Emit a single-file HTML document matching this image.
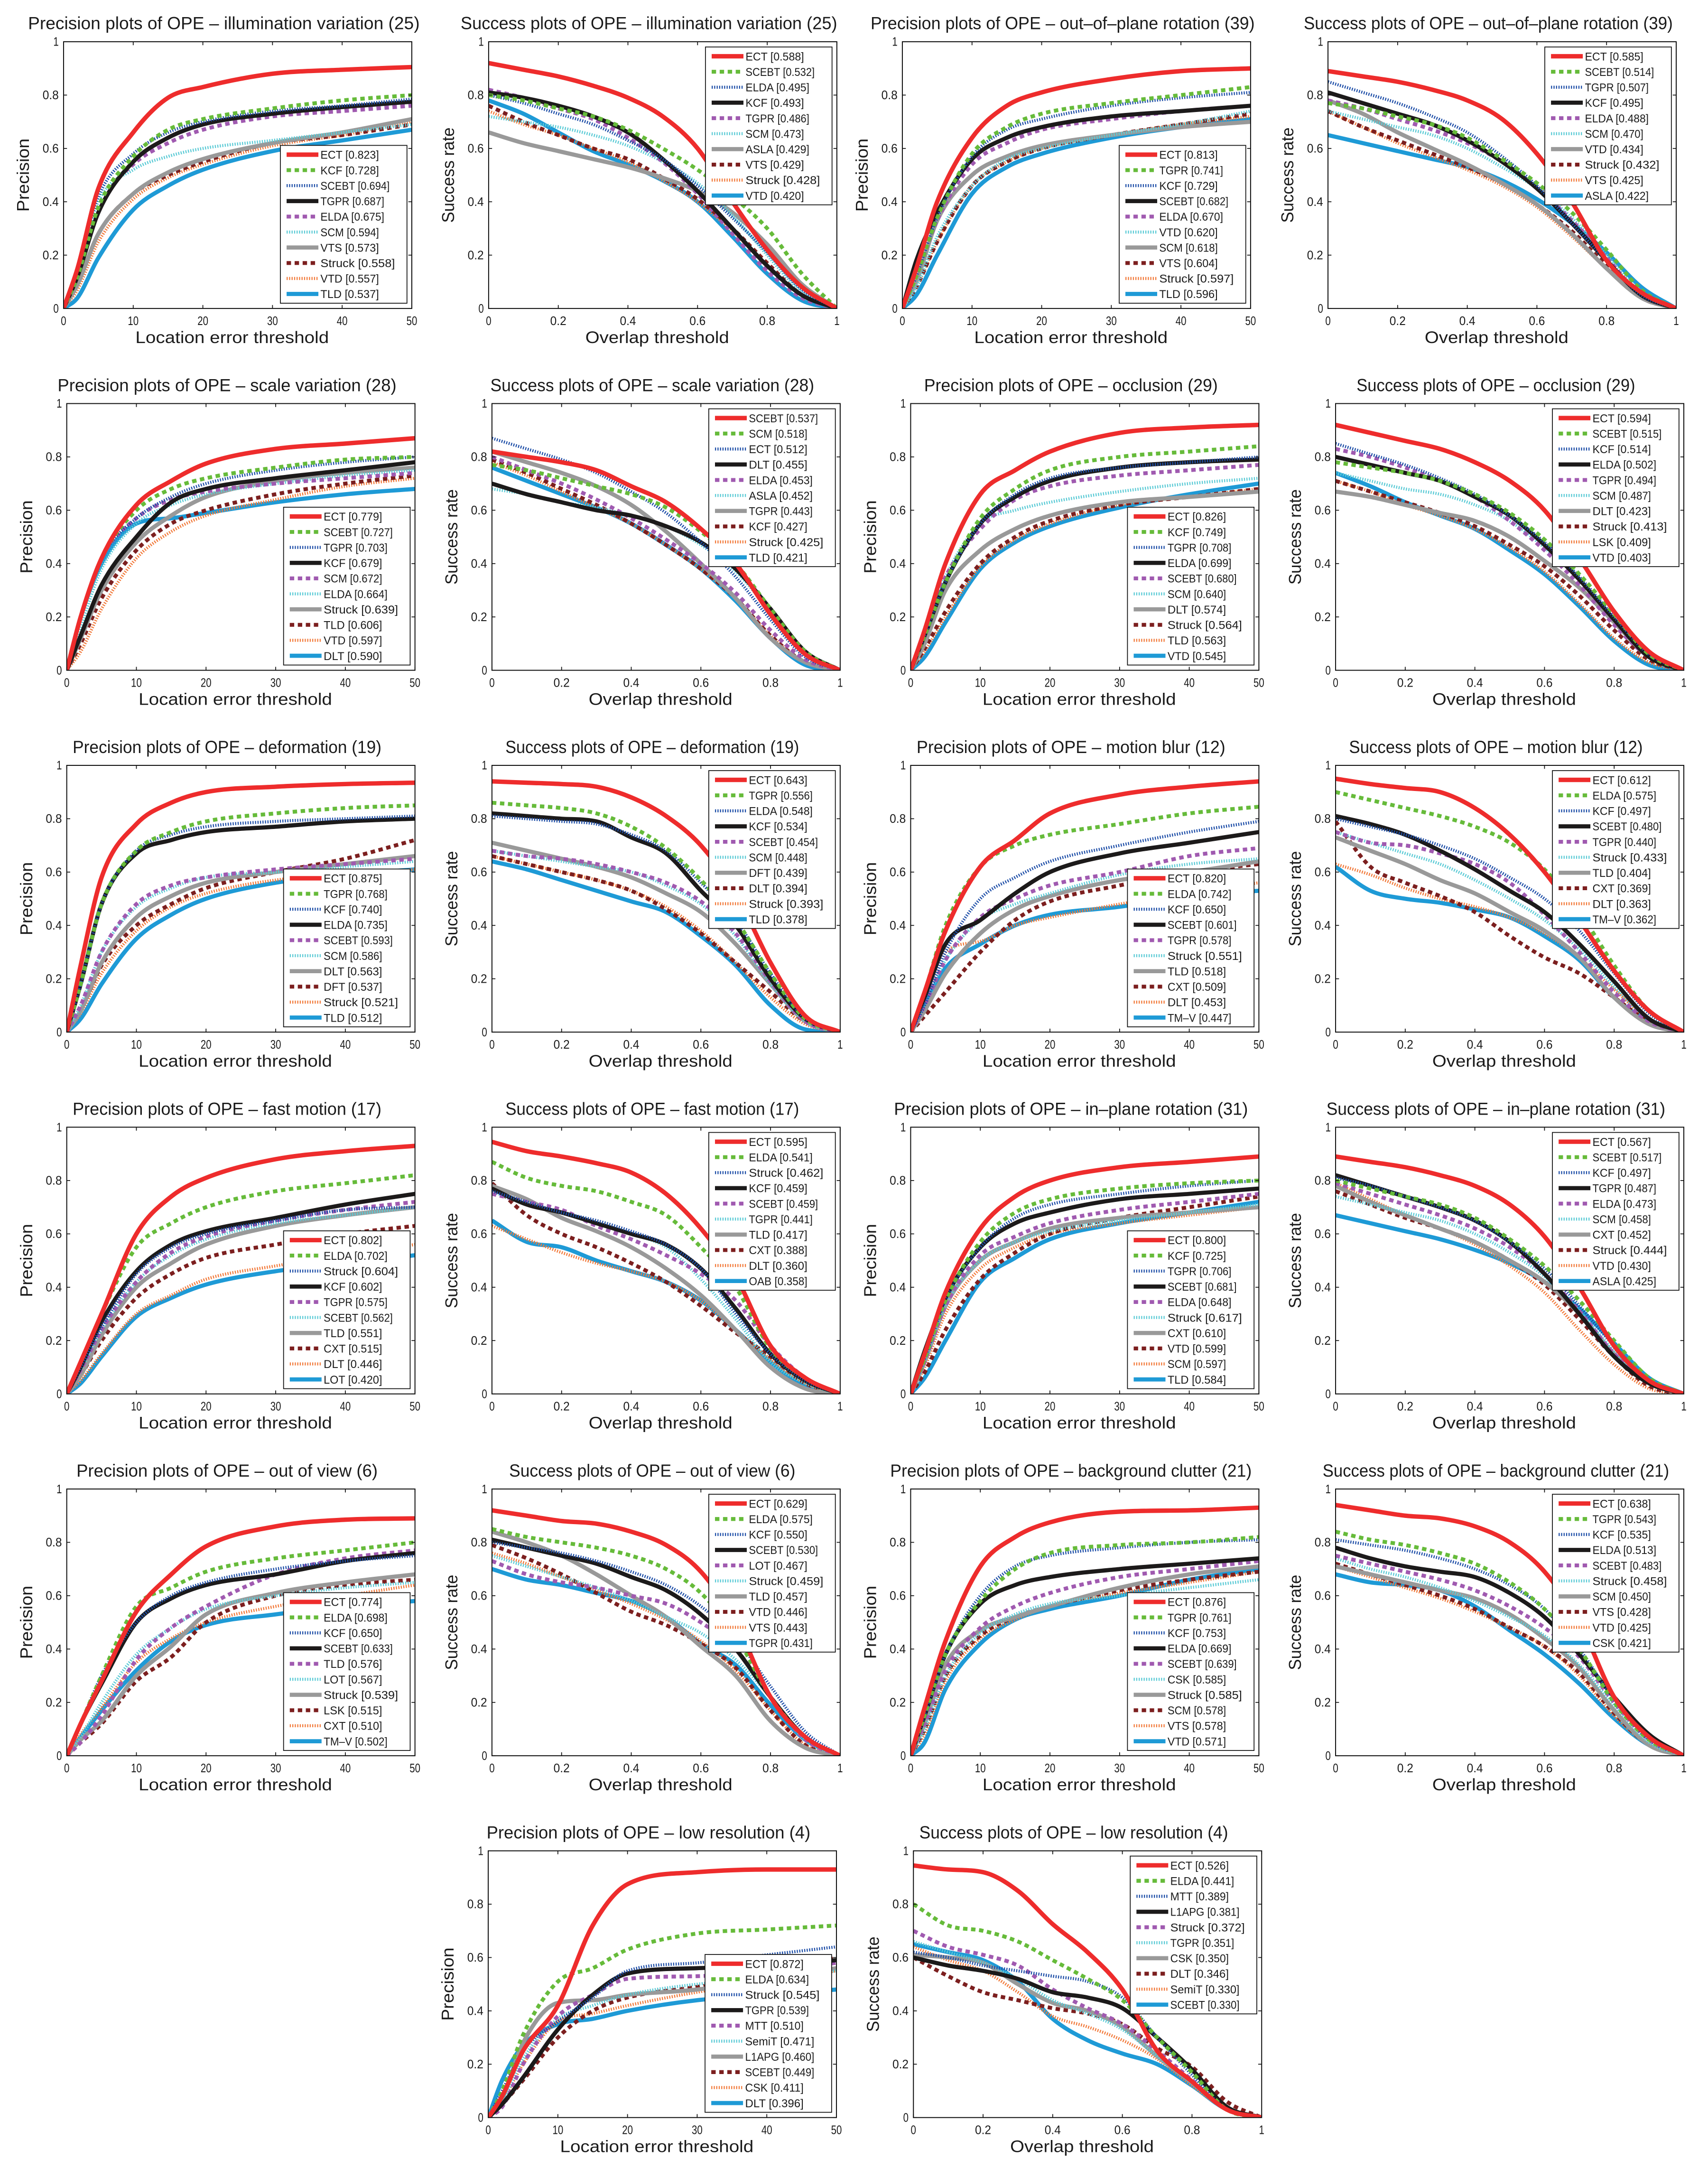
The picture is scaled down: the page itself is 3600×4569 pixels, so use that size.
<!DOCTYPE html>
<html><head><meta charset="utf-8">
<style>
html,body{margin:0;padding:0;background:#fff;}
svg{display:block;}
text{font-family:"Liberation Sans",sans-serif;fill:#1a1a1a;}
</style></head>
<body>
<svg id="fig" xmlns="http://www.w3.org/2000/svg" width="3600" height="4569" viewBox="0 0 1236 1568.7"></svg>
<script>
// ---------- data ----------
const precX = [0, 2, 5, 10, 15, 20, 30, 40, 50];
const succX = [0, 0.1, 0.2, 0.3, 0.4, 0.5, 0.6, 0.7, 0.8, 0.9, 1];
const precTicks = ["0","10","20","30","40","50"];
const succTicks = ["0","0.2","0.4","0.6","0.8","1"];
const yTicks = ["0","0.2","0.4","0.6","0.8","1"];
const kinds = ["P","S","P","S","P","S","P","S","P","S","P","S","P","S","P","S","P","S","P","S","P","S"];
const titles = [
"Precision plots of OPE – illumination variation (25)","Success plots of OPE – illumination variation (25)",
"Precision plots of OPE – out–of–plane rotation (39)","Success plots of OPE – out–of–plane rotation (39)",
"Precision plots of OPE – scale variation (28)","Success plots of OPE – scale variation (28)",
"Precision plots of OPE – occlusion (29)","Success plots of OPE – occlusion (29)",
"Precision plots of OPE – deformation (19)","Success plots of OPE – deformation (19)",
"Precision plots of OPE – motion blur (12)","Success plots of OPE – motion blur (12)",
"Precision plots of OPE – fast motion (17)","Success plots of OPE – fast motion (17)",
"Precision plots of OPE – in–plane rotation (31)","Success plots of OPE – in–plane rotation (31)",
"Precision plots of OPE – out of view (6)","Success plots of OPE – out of view (6)",
"Precision plots of OPE – background clutter (21)","Success plots of OPE – background clutter (21)",
"Precision plots of OPE – low resolution (4)","Success plots of OPE – low resolution (4)"];
const names = [
["ECT","KCF","SCEBT","TGPR","ELDA","SCM","VTS","Struck","VTD","TLD"],
["ECT","SCEBT","ELDA","KCF","TGPR","SCM","ASLA","VTS","Struck","VTD"],
["ECT","TGPR","KCF","SCEBT","ELDA","VTD","SCM","VTS","Struck","TLD"],
["ECT","SCEBT","TGPR","KCF","ELDA","SCM","VTD","Struck","VTS","ASLA"],
["ECT","SCEBT","TGPR","KCF","SCM","ELDA","Struck","TLD","VTD","DLT"],
["SCEBT","SCM","ECT","DLT","ELDA","ASLA","TGPR","KCF","Struck","TLD"],
["ECT","KCF","TGPR","ELDA","SCEBT","SCM","DLT","Struck","TLD","VTD"],
["ECT","SCEBT","KCF","ELDA","TGPR","SCM","DLT","Struck","LSK","VTD"],
["ECT","TGPR","KCF","ELDA","SCEBT","SCM","DLT","DFT","Struck","TLD"],
["ECT","TGPR","ELDA","KCF","SCEBT","SCM","DFT","DLT","Struck","TLD"],
["ECT","ELDA","KCF","SCEBT","TGPR","Struck","TLD","CXT","DLT","TM–V"],
["ECT","ELDA","KCF","SCEBT","TGPR","Struck","TLD","CXT","DLT","TM–V"],
["ECT","ELDA","Struck","KCF","TGPR","SCEBT","TLD","CXT","DLT","LOT"],
["ECT","ELDA","Struck","KCF","SCEBT","TGPR","TLD","CXT","DLT","OAB"],
["ECT","KCF","TGPR","SCEBT","ELDA","Struck","CXT","VTD","SCM","TLD"],
["ECT","SCEBT","KCF","TGPR","ELDA","SCM","CXT","Struck","VTD","ASLA"],
["ECT","ELDA","KCF","SCEBT","TLD","LOT","Struck","LSK","CXT","TM–V"],
["ECT","ELDA","KCF","SCEBT","LOT","Struck","TLD","VTD","VTS","TGPR"],
["ECT","TGPR","KCF","ELDA","SCEBT","CSK","Struck","SCM","VTS","VTD"],
["ECT","TGPR","KCF","ELDA","SCEBT","Struck","SCM","VTS","VTD","CSK"],
["ECT","ELDA","Struck","TGPR","MTT","SemiT","L1APG","SCEBT","CSK","DLT"],
["ECT","ELDA","MTT","L1APG","Struck","TGPR","CSK","DLT","SemiT","SCEBT"]];
const scores = [
["0.823","0.728","0.694","0.687","0.675","0.594","0.573","0.558","0.557","0.537"],
["0.588","0.532","0.495","0.493","0.486","0.473","0.429","0.429","0.428","0.420"],
["0.813","0.741","0.729","0.682","0.670","0.620","0.618","0.604","0.597","0.596"],
["0.585","0.514","0.507","0.495","0.488","0.470","0.434","0.432","0.425","0.422"],
["0.779","0.727","0.703","0.679","0.672","0.664","0.639","0.606","0.597","0.590"],
["0.537","0.518","0.512","0.455","0.453","0.452","0.443","0.427","0.425","0.421"],
["0.826","0.749","0.708","0.699","0.680","0.640","0.574","0.564","0.563","0.545"],
["0.594","0.515","0.514","0.502","0.494","0.487","0.423","0.413","0.409","0.403"],
["0.875","0.768","0.740","0.735","0.593","0.586","0.563","0.537","0.521","0.512"],
["0.643","0.556","0.548","0.534","0.454","0.448","0.439","0.394","0.393","0.378"],
["0.820","0.742","0.650","0.601","0.578","0.551","0.518","0.509","0.453","0.447"],
["0.612","0.575","0.497","0.480","0.440","0.433","0.404","0.369","0.363","0.362"],
["0.802","0.702","0.604","0.602","0.575","0.562","0.551","0.515","0.446","0.420"],
["0.595","0.541","0.462","0.459","0.459","0.441","0.417","0.388","0.360","0.358"],
["0.800","0.725","0.706","0.681","0.648","0.617","0.610","0.599","0.597","0.584"],
["0.567","0.517","0.497","0.487","0.473","0.458","0.452","0.444","0.430","0.425"],
["0.774","0.698","0.650","0.633","0.576","0.567","0.539","0.515","0.510","0.502"],
["0.629","0.575","0.550","0.530","0.467","0.459","0.457","0.446","0.443","0.431"],
["0.876","0.761","0.753","0.669","0.639","0.585","0.585","0.578","0.578","0.571"],
["0.638","0.543","0.535","0.513","0.483","0.458","0.450","0.428","0.425","0.421"],
["0.872","0.634","0.545","0.539","0.510","0.471","0.460","0.449","0.411","0.396"],
["0.526","0.441","0.389","0.381","0.372","0.351","0.350","0.346","0.330","0.330"]];
const curves = [
[[0,.15,.45,.66,.79,.83,.88,.895,.905],[0,.12,.38,.57,.67,.71,.75,.78,.80],[0,.15,.42,.58,.66,.70,.74,.76,.785],[0,.12,.36,.55,.64,.69,.73,.755,.775],[0,.12,.38,.54,.62,.67,.72,.74,.76],[0,.14,.40,.52,.57,.60,.63,.66,.69],[0,.09,.28,.43,.51,.56,.62,.66,.71],[0,.09,.28,.43,.50,.55,.62,.65,.69],[0,.07,.25,.41,.49,.54,.61,.65,.70],[0,.04,.19,.37,.46,.52,.59,.63,.67]],
[[.92,.895,.87,.835,.79,.72,.60,.40,.22,.08,0],[.80,.78,.75,.72,.67,.60,.52,.42,.30,.13,0],[.80,.77,.73,.69,.63,.56,.46,.34,.21,.07,0],[.81,.79,.76,.72,.66,.56,.44,.30,.16,.05,0],[.82,.79,.75,.71,.64,.55,.43,.28,.14,.04,0],[.72,.70,.68,.65,.61,.55,.47,.35,.20,.06,0],[.66,.62,.59,.56,.53,.49,.44,.36,.24,.09,0],[.76,.70,.65,.60,.56,.49,.41,.30,.17,.05,0],[.74,.69,.65,.60,.55,.48,.40,.29,.16,.05,0],[.78,.73,.66,.59,.54,.48,.40,.27,.13,.03,0]],
[[0,.15,.40,.64,.76,.81,.86,.89,.90],[0,.12,.34,.58,.68,.73,.77,.80,.83],[0,.12,.34,.57,.67,.71,.76,.79,.81],[0,.18,.36,.56,.64,.68,.72,.74,.76],[0,.12,.33,.54,.62,.67,.71,.74,.76],[0,.08,.27,.46,.56,.60,.65,.69,.74],[0,.10,.33,.50,.57,.61,.65,.68,.70],[0,.08,.25,.46,.55,.60,.65,.69,.73],[0,.08,.25,.46,.55,.60,.65,.69,.72],[0,.05,.20,.43,.53,.58,.64,.68,.71]],
[[.89,.87,.85,.82,.78,.71,.58,.40,.18,.06,0],[.77,.75,.72,.69,.64,.56,.47,.36,.22,.07,0],[.85,.81,.77,.72,.66,.57,.46,.32,.18,.05,0],[.81,.77,.73,.69,.63,.55,.45,.32,.18,.05,0],[.78,.75,.71,.67,.62,.55,.45,.33,.19,.05,0],[.74,.71,.68,.65,.60,.53,.45,.34,.20,.06,0],[.78,.73,.66,.60,.54,.47,.39,.28,.15,.04,0],[.74,.68,.63,.58,.53,.47,.39,.29,.16,.04,0],[.74,.68,.62,.57,.52,.46,.38,.27,.15,.04,0],[.65,.62,.59,.56,.53,.48,.41,.32,.21,.08,0]],
[[0,.20,.42,.62,.71,.775,.83,.85,.87],[0,.20,.42,.60,.68,.72,.76,.79,.80],[0,.20,.42,.57,.65,.70,.75,.78,.80],[0,.13,.32,.50,.63,.68,.72,.75,.78],[0,.20,.42,.57,.64,.67,.70,.72,.74],[0,.16,.38,.55,.62,.66,.70,.73,.75],[0,.12,.30,.48,.58,.65,.71,.74,.76],[0,.10,.27,.45,.55,.60,.66,.70,.73],[0,.07,.23,.42,.52,.58,.64,.69,.72],[0,.20,.40,.55,.57,.59,.63,.66,.68]],
[[.82,.80,.78,.75,.69,.63,.53,.40,.21,.06,0],[.77,.75,.72,.69,.66,.61,.52,.40,.23,.07,0],[.87,.83,.79,.74,.67,.59,.48,.35,.19,.05,0],[.70,.66,.63,.60,.58,.54,.48,.38,.23,.07,0],[.80,.75,.70,.64,.57,.49,.40,.29,.15,.04,0],[.68,.66,.63,.61,.58,.54,.47,.37,.22,.06,0],[.82,.78,.74,.69,.62,.52,.40,.27,.12,.03,0],[.79,.74,.68,.62,.55,.47,.38,.27,.13,.03,0],[.78,.73,.67,.61,.55,.47,.38,.27,.13,.03,0],[.76,.71,.66,.61,.55,.47,.38,.26,.12,.02,0]],
[[0,.15,.40,.66,.75,.82,.89,.91,.92],[0,.13,.33,.57,.68,.75,.80,.82,.84],[0,.13,.33,.55,.66,.72,.76,.78,.80],[0,.13,.33,.55,.65,.71,.76,.78,.79],[0,.15,.35,.53,.64,.69,.73,.75,.77],[0,.13,.35,.55,.60,.63,.67,.70,.72],[0,.10,.30,.45,.53,.58,.63,.65,.67],[0,.08,.22,.40,.50,.56,.62,.65,.68],[0,.07,.20,.39,.49,.55,.62,.65,.68],[0,.05,.18,.38,.48,.54,.61,.66,.70]],
[[.92,.89,.86,.83,.78,.71,.60,.42,.22,.07,0],[.78,.76,.74,.71,.66,.59,.49,.36,.21,.06,0],[.85,.81,.77,.72,.66,.58,.48,.35,.20,.06,0],[.80,.77,.74,.71,.65,.58,.47,.34,.19,.05,0],[.83,.80,.76,.71,.65,.56,.45,.32,.17,.05,0],[.74,.71,.68,.66,.62,.56,.46,.34,.19,.05,0],[.67,.65,.62,.59,.56,.50,.41,.31,.18,.05,0],[.71,.67,.63,.59,.54,.47,.39,.28,.15,.04,0],[.71,.67,.62,.58,.53,.46,.37,.25,.12,.03,0],[.74,.69,.63,.58,.53,.45,.36,.24,.11,.02,0]],
[[0,.25,.58,.78,.86,.90,.92,.93,.935],[0,.18,.48,.68,.75,.79,.82,.84,.85],[0,.18,.48,.68,.74,.77,.79,.80,.81],[0,.18,.48,.67,.72,.75,.77,.79,.80],[0,.10,.30,.48,.55,.58,.61,.63,.65],[0,.10,.30,.47,.54,.58,.60,.62,.64],[0,.08,.26,.43,.51,.56,.60,.63,.66],[0,.08,.25,.40,.48,.54,.60,.65,.72],[0,.07,.22,.38,.47,.52,.57,.59,.61],[0,.05,.18,.35,.44,.50,.56,.59,.61]],
[[.94,.935,.93,.92,.88,.81,.70,.52,.26,.06,0],[.86,.85,.84,.82,.77,.69,.57,.42,.22,.05,0],[.81,.80,.79,.78,.74,.68,.56,.42,.22,.05,0],[.82,.81,.80,.79,.73,.67,.53,.40,.20,.05,0],[.68,.66,.65,.63,.60,.56,.49,.37,.19,.04,0],[.68,.66,.64,.62,.60,.55,.48,.36,.18,.04,0],[.71,.68,.65,.62,.58,.52,.45,.33,.18,.04,0],[.66,.63,.60,.57,.53,.46,.37,.26,.15,.04,0],[.66,.63,.60,.57,.53,.47,.38,.26,.13,.03,0],[.64,.61,.57,.53,.49,.45,.36,.25,.10,.01,0]],
[[0,.15,.38,.62,.72,.82,.89,.92,.94],[0,.15,.40,.62,.70,.74,.78,.82,.845],[0,.10,.30,.50,.58,.64,.70,.75,.79],[0,.13,.33,.42,.52,.60,.67,.71,.75],[0,.10,.27,.43,.50,.55,.60,.66,.69],[0,.10,.27,.42,.48,.52,.59,.63,.65],[0,.08,.22,.37,.46,.51,.57,.60,.64],[0,.06,.15,.30,.42,.49,.55,.60,.63],[0,.12,.30,.34,.40,.43,.48,.52,.56],[0,.10,.24,.33,.40,.44,.47,.51,.53]],
[[.95,.93,.915,.90,.84,.74,.60,.42,.23,.08,0],[.90,.87,.84,.81,.77,.71,.61,.45,.25,.08,0],[.80,.77,.74,.70,.65,.58,.50,.38,.22,.07,0],[.81,.78,.74,.68,.61,.53,.45,.33,.19,.05,0],[.75,.71,.70,.67,.63,.56,.44,.30,.15,.04,0],[.75,.71,.67,.63,.57,.50,.42,.31,.17,.05,0],[.73,.68,.63,.57,.52,.45,.38,.28,.13,.03,0],[.79,.62,.56,.51,.45,.36,.28,.22,.13,.04,0],[.63,.59,.54,.50,.47,.43,.37,.28,.16,.05,0],[.62,.53,.50,.485,.46,.43,.36,.27,.13,.04,0]],
[[0,.12,.30,.60,.74,.81,.88,.91,.93],[0,.12,.30,.55,.64,.70,.76,.79,.82],[0,.10,.25,.45,.55,.60,.65,.69,.70],[0,.10,.27,.46,.56,.61,.66,.71,.75],[0,.09,.24,.42,.53,.59,.65,.69,.72],[0,.09,.24,.42,.52,.58,.64,.67,.70],[0,.07,.22,.40,.49,.56,.63,.67,.70],[0,.07,.20,.36,.45,.51,.56,.60,.63],[0,.05,.15,.30,.37,.43,.48,.52,.56],[0,.04,.14,.29,.36,.41,.46,.49,.52]],
[[.945,.91,.89,.865,.83,.75,.62,.44,.18,.06,0],[.87,.81,.78,.76,.72,.67,.55,.40,.17,.06,0],[.76,.72,.68,.65,.61,.56,.47,.30,.15,.05,0],[.77,.71,.68,.64,.60,.56,.47,.32,.15,.05,0],[.75,.72,.69,.63,.58,.52,.45,.35,.18,.06,0],[.76,.71,.68,.64,.60,.55,.43,.28,.12,.04,0],[.78,.73,.66,.61,.55,.47,.37,.24,.10,.02,0],[.79,.67,.60,.55,.49,.42,.33,.23,.14,.04,0],[.63,.58,.53,.49,.46,.42,.35,.24,.13,.04,0],[.65,.57,.55,.50,.46,.42,.35,.24,.12,.03,0]],
[[0,.15,.38,.62,.74,.80,.85,.87,.89],[0,.13,.35,.57,.68,.73,.77,.79,.80],[0,.13,.35,.55,.66,.71,.75,.78,.80],[0,.16,.36,.55,.64,.68,.73,.75,.77],[0,.12,.33,.52,.59,.64,.69,.72,.75],[0,.12,.33,.50,.57,.61,.65,.68,.71],[0,.12,.33,.50,.57,.62,.66,.68,.70],[0,.08,.24,.43,.53,.60,.66,.70,.74],[0,.10,.30,.47,.55,.60,.64,.67,.70],[0,.06,.20,.42,.51,.58,.64,.68,.72]],
[[.89,.87,.85,.82,.78,.71,.59,.40,.18,.05,0],[.80,.77,.74,.71,.66,.58,.48,.35,.20,.06,0],[.81,.78,.74,.70,.65,.57,.47,.33,.18,.05,0],[.82,.78,.74,.70,.65,.57,.45,.30,.14,.04,0],[.79,.75,.71,.67,.62,.55,.45,.31,.15,.04,0],[.74,.71,.68,.65,.60,.53,.44,.31,.16,.04,0],[.78,.72,.67,.62,.57,.50,.42,.30,.15,.04,0],[.76,.71,.66,.62,.57,.50,.41,.28,.14,.03,0],[.79,.73,.67,.62,.56,.48,.38,.24,.11,.02,0],[.67,.64,.61,.58,.54,.49,.42,.32,.19,.06,0]],
[[0,.12,.28,.54,.68,.785,.86,.885,.89],[0,.12,.30,.56,.63,.69,.74,.77,.80],[0,.12,.30,.50,.60,.65,.70,.73,.75],[0,.12,.27,.50,.59,.64,.68,.73,.76],[0,.05,.15,.36,.48,.56,.68,.74,.77],[0,.07,.20,.38,.48,.55,.60,.63,.65],[0,.06,.13,.30,.41,.53,.61,.65,.68],[0,.05,.12,.28,.37,.50,.60,.64,.66],[0,.08,.18,.35,.44,.50,.56,.60,.64],[0,.07,.17,.32,.43,.49,.53,.56,.58]],
[[.92,.90,.88,.87,.84,.79,.69,.50,.22,.07,0],[.85,.82,.80,.78,.75,.70,.61,.45,.22,.07,0],[.80,.78,.76,.73,.69,.64,.56,.44,.26,.09,0],[.81,.78,.75,.72,.67,.62,.53,.40,.22,.07,0],[.73,.68,.65,.63,.60,.57,.50,.40,.22,.06,0],[.75,.71,.67,.63,.58,.52,.46,.36,.22,.06,0],[.84,.80,.75,.68,.60,.52,.41,.30,.13,.03,0],[.79,.74,.68,.61,.54,.49,.42,.33,.17,.04,0],[.76,.72,.67,.62,.57,.51,.43,.32,.17,.04,0],[.70,.66,.64,.61,.58,.52,.42,.34,.19,.06,0]],
[[0,.18,.43,.71,.82,.875,.915,.92,.93],[0,.15,.38,.58,.70,.76,.79,.80,.82],[0,.15,.38,.60,.71,.75,.78,.80,.81],[0,.15,.38,.57,.64,.67,.70,.72,.74],[0,.12,.32,.48,.56,.61,.67,.70,.73],[0,.10,.30,.46,.53,.57,.60,.63,.66],[0,.12,.34,.47,.52,.56,.63,.68,.71],[0,.10,.30,.45,.52,.56,.62,.66,.69],[0,.08,.28,.44,.51,.56,.61,.65,.69],[0,.05,.25,.42,.51,.55,.60,.66,.70]],
[[.94,.92,.90,.89,.86,.80,.69,.50,.22,.07,0],[.84,.81,.79,.76,.72,.65,.55,.40,.20,.06,0],[.81,.79,.77,.74,.70,.64,.55,.40,.21,.06,0],[.78,.74,.71,.69,.67,.61,.52,.38,.22,.08,0],[.75,.72,.69,.66,.62,.56,.48,.37,.20,.06,0],[.74,.70,.67,.63,.58,.52,.45,.34,.19,.05,0],[.71,.68,.65,.62,.59,.53,.44,.33,.17,.04,0],[.72,.68,.64,.60,.55,.48,.41,.31,.16,.04,0],[.71,.67,.63,.59,.54,.48,.41,.30,.15,.04,0],[.68,.65,.64,.62,.56,.47,.38,.27,.14,.04,0]],
[[0,.08,.25,.42,.72,.875,.92,.93,.93],[0,.10,.31,.51,.56,.63,.69,.705,.72],[0,.10,.25,.36,.45,.55,.58,.61,.64],[0,.05,.15,.33,.46,.54,.56,.57,.59],[0,.04,.20,.38,.46,.52,.53,.55,.58],[0,.06,.22,.37,.42,.46,.50,.52,.55],[0,.07,.28,.43,.44,.46,.48,.52,.56],[0,.05,.14,.30,.40,.45,.49,.53,.60],[0,.06,.20,.36,.39,.42,.47,.51,.55],[0,.14,.27,.35,.37,.40,.44,.46,.48]],
[[.945,.93,.92,.85,.725,.62,.48,.25,.135,.03,0],[.80,.72,.70,.66,.59,.52,.44,.30,.17,.03,0],[.62,.60,.57,.55,.53,.51,.45,.30,.16,.03,0],[.60,.57,.55,.52,.47,.45,.41,.30,.18,.04,0],[.70,.64,.61,.57,.48,.41,.35,.25,.14,.03,0],[.66,.62,.58,.52,.44,.39,.33,.23,.13,.03,0],[.61,.60,.58,.50,.43,.40,.34,.23,.13,.03,0],[.60,.53,.47,.44,.41,.39,.35,.26,.19,.06,0],[.64,.59,.55,.47,.38,.34,.29,.22,.12,.03,0],[.65,.62,.59,.51,.37,.29,.24,.20,.12,.03,0]]];

// ---------- drawing ----------
const NS = "http://www.w3.org/2000/svg";
const fig = document.getElementById("fig");
const STY = [
 {c:"#ee2c2c",w:3.2,d:null},{c:"#66bb3a",w:2.8,d:"3.2 2.6"},{c:"#1f4fa8",w:2.2,d:"0.8 1.0"},
 {c:"#1c1a1a",w:3.0,d:null},{c:"#a05ab0",w:2.8,d:"3.2 2.6"},{c:"#5ccbd6",w:2.2,d:"0.8 1.0"},
 {c:"#999999",w:3.0,d:null},{c:"#7c1f1f",w:2.8,d:"3.2 2.6"},{c:"#f27b3c",w:2.2,d:"0.8 1.0"},
 {c:"#1e9ad6",w:3.0,d:null}];

function el(tag, attrs, parent){
  const e = document.createElementNS(NS, tag);
  for (const k in attrs) e.setAttribute(k, attrs[k]);
  parent.appendChild(e);
  return e;
}
function txt(parent, x, y, s, size, anchor, tl){
  const t = el("text", {x:x, y:y, "font-size":size, "text-anchor":anchor||"start"}, parent);
  if (tl) { t.setAttribute("textLength", tl); t.setAttribute("lengthAdjust", "spacingAndGlyphs"); }
  t.textContent = s;
  return t;
}
function monoPath(px, py){
  const n = px.length, m = [], t = [];
  for (let i=0;i<n-1;i++) m.push((py[i+1]-py[i])/(px[i+1]-px[i]));
  t[0]=m[0]; t[n-1]=m[n-2];
  for (let i=1;i<n-1;i++) t[i] = (m[i-1]*m[i] <= 0) ? 0 : (m[i-1]+m[i])/2;
  for (let i=0;i<n-1;i++){
    if (m[i]===0){ t[i]=0; t[i+1]=0; continue; }
    const a=t[i]/m[i], b=t[i+1]/m[i], s=a*a+b*b;
    if (s>9){ const k=3/Math.sqrt(s); t[i]=k*a*m[i]; t[i+1]=k*b*m[i]; }
  }
  let d = "M"+px[0].toFixed(2)+","+py[0].toFixed(2);
  for (let i=0;i<n-1;i++){
    const h=(px[i+1]-px[i])/3;
    d += " C"+(px[i]+h).toFixed(2)+","+(py[i]+t[i]*h).toFixed(2)+" "+(px[i+1]-h).toFixed(2)+","+(py[i+1]-t[i+1]*h).toFixed(2)+" "+px[i+1].toFixed(2)+","+py[i+1].toFixed(2);
  }
  return d;
}

for (let p=0; p<titles.length; p++){
  let r, x0;
  if (p<20){ r=Math.floor(p/4); const c=p%4;
    x0 = (r===0 ? [46,353.6,653,961] : [48.3,356,659,966.5])[c];
  } else { r=5; x0 = (p===20) ? 353.3 : 661; }
  const W=252, H=193, top=30.2+261.8*r, bot=top+H;
  const isP = kinds[p]==="P";
  const xs = isP ? precX : succX, xmax = isP ? 50 : 1;
  const sx = v => x0 + v/xmax*W;
  const sy = v => bot - v*H;

  const g = el("g", {}, fig);
  
  

  const tt = txt(g, x0+W/2-10, top-9, titles[p], 12.8, "middle", titles[p].length*5.45);
  
  

  const cid = "clip"+p;
  const cp = el("clipPath", {id:cid}, g);
  el("rect", {x:x0, y:top-2, width:W, height:H+2}, cp);

  const cg = el("g", {"clip-path":"url(#"+cid+")"}, g);
  for (let k=curves[p].length-1; k>=0; k--){
    const st = STY[k];
    const d = monoPath(xs.map(sx), curves[p][k].map(sy));
    const path = el("path", {d:d, fill:"none", stroke:st.c, "stroke-width":st.w, "stroke-linejoin":"round"}, cg);
    if (st.d) path.setAttribute("stroke-dasharray", st.d);
    
    
  }

  const box = el("rect", {x:x0, y:top, width:W, height:H, fill:"none", stroke:"#111", "stroke-width":0.7}, g);
  
  

  yTicks.forEach((lab,i)=>{
    const v=i*0.2, y=sy(v);
    el("line",{x1:x0,y1:y,x2:x0+2.5,y2:y,stroke:"#111","stroke-width":0.6},g);
    el("line",{x1:x0+W,y1:y,x2:x0+W-2.5,y2:y,stroke:"#111","stroke-width":0.6},g);
    const t = txt(g, x0-3.5, y+3, lab, 9, "end", lab.length*3.9);
    
    
  });
  const xt = isP ? precTicks : succTicks;
  xt.forEach((lab,i)=>{
    const x = x0 + i/(xt.length-1)*W;
    el("line",{x1:x,y1:bot,x2:x,y2:bot-2.5,stroke:"#111","stroke-width":0.6},g);
    el("line",{x1:x,y1:top,x2:x,y2:top+2.5,stroke:"#111","stroke-width":0.6},g);
    const t = txt(g, x, bot+12, lab, 9, "middle", lab.length*3.9);
    
    
  });
  const xl = isP ? "Location error threshold" : "Overlap threshold";
  const xtxt = txt(g, x0+W/2-4, bot+25, xl, 12, "middle", isP?140:104);
  
  
  const yl = isP ? "Precision" : "Success rate";
  const ytxt = el("text", {x:0, y:0, "font-size":12.5, "text-anchor":"middle", textLength:isP?53:69, lengthAdjust:"spacingAndGlyphs", transform:"translate("+(x0-25)+","+(top+H/2)+") rotate(-90)"}, g);
  ytxt.textContent = yl;
  
  

  let maxc = 0;
  names[p].forEach((n,k)=>{ maxc = Math.max(maxc, (n+" ["+scores[p][k]+"]").length); });
  const lw = 29 + maxc*3.9 + 8, lh = 114.2;
  const lx = x0 + W - 3.5 - lw;
  const ly = isP ? bot - 3.8 - lh : top + 3.8;
  const lg = el("g", {}, g);
  
  
  el("rect", {x:lx, y:ly, width:lw, height:lh, fill:"#fff", stroke:"#111", "stroke-width":0.6}, lg);
  names[p].forEach((n,k)=>{
    const st = STY[k], yy = ly + 6.7 + k*11.2;
    const ln = el("line", {x1:lx+4.5, y1:yy, x2:lx+27.5, y2:yy, stroke:st.c, "stroke-width":st.w}, lg);
    if (st.d) ln.setAttribute("stroke-dasharray", st.d);
    
    
    const lab = n+" ["+scores[p][k]+"]";
    const t = txt(lg, lx+29, yy+3, lab, 8.2, "start", lab.length*3.85);
    
    
  });
}
</script>
</body></html>
